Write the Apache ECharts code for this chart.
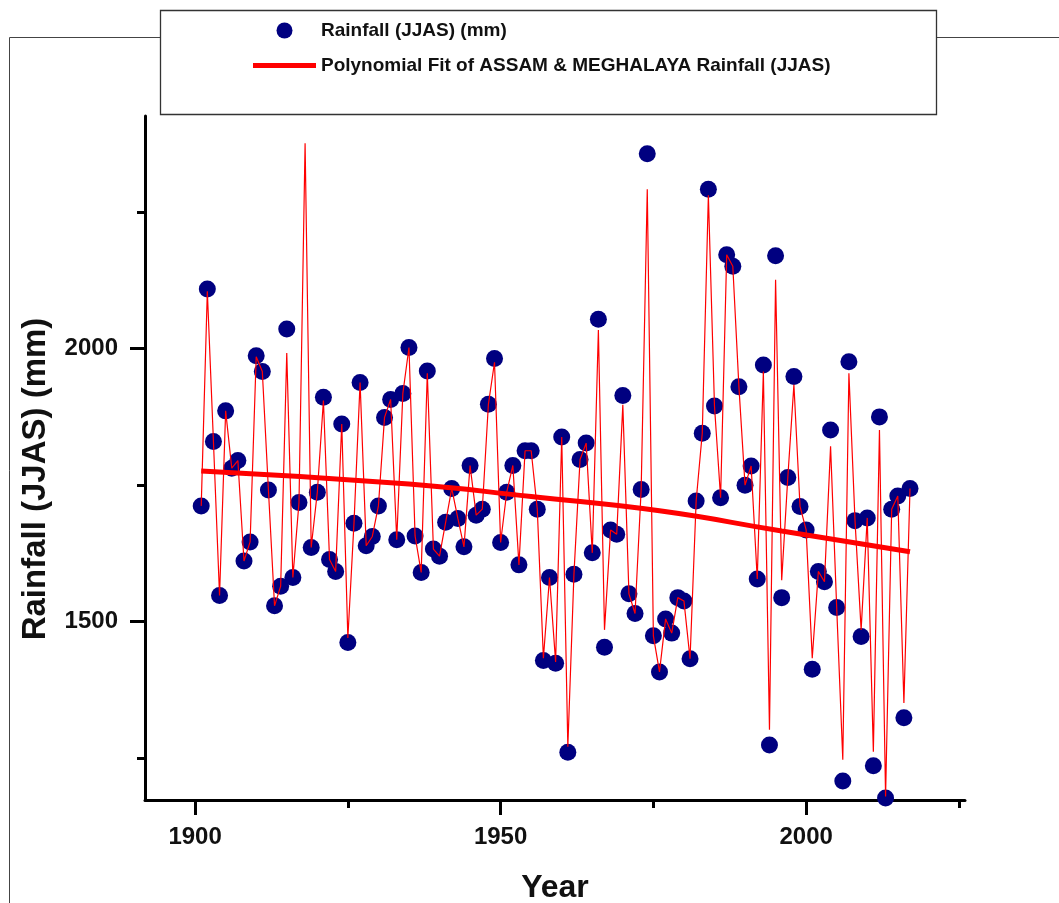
<!DOCTYPE html>
<html><head><meta charset="utf-8">
<script src="https://cdn.jsdelivr.net/npm/echarts@6/dist/echarts.min.js"></script>
<style>html,body{margin:0;padding:0;background:#fff}#chart{width:1059px;height:903px}</style>
</head><body><div id="chart"></div>
<script>
const firstYear = 1901;
// Rainfall (JJAS) dots, 1901-2017 (null = no dot drawn)
const rainfall = [
  1712, 2109, 1830, 1548, 1886, 1781, 1795, 1611, 1646, 1987,
  1958, 1741, 1529, 1565, 2036, 1581, 1718, null, 1636, 1737,
  1911, 1614, 1592, 1862, 1462, 1680, 1938, 1639, 1656, 1712,
  1874, 1907, 1650, 1918, 2002, 1657, 1590, 1959, 1633, 1620,
  1682, 1744, 1689, 1637, 1786, 1695, 1706, 1898, 1982, 1645,
  1737, 1786, 1604, 1813, 1813, 1706, 1429, 1581, 1424, 1838,
  1261, 1587, 1797, 1827, 1626, 2054, 1453, 1668, 1660, 1914,
  1551, 1515, 1742, 2357, 1474, 1408, 1505, 1479, 1544, 1538,
  1432, 1721, 1845, 2292, 1895, 1727, 2172, 2151, 1930, 1750,
  1785, 1578, 1970, 1274, 2170, 1544, 1764, 1949, 1711, 1668,
  1413, 1592, 1573, 1851, 1526, 1208, 1976, 1685, 1473, 1690,
  1236, 1875, 1177, 1706, 1730, 1324, 1744
];
// thin connecting line vertices, 1901-2017
const lineValues = [
  1712, 2105, 1830, 1548, 1886, 1781, 1795, 1611, 1646, 1985,
  1958, 1741, 1529, 1565, 1992, 1581, 1718, 2376, 1636, 1737,
  1905, 1614, 1592, 1862, 1470, 1680, 1938, 1639, 1656, 1712,
  1874, 1907, 1650, 1918, 2002, 1657, 1590, 1955, 1633, 1620,
  1682, 1744, 1689, 1637, 1786, 1695, 1706, 1898, 1975, 1645,
  1737, 1786, 1604, 1813, 1813, 1706, 1433, 1581, 1426, 1838,
  1271, 1587, 1797, 1827, 1626, 2034, 1485, 1668, 1660, 1897,
  1551, 1515, 1742, 2292, 1474, 1408, 1505, 1479, 1544, 1538,
  1432, 1721, 1845, 2281, 1895, 1727, 2172, 2151, 1930, 1750,
  1785, 1578, 1958, 1302, 2126, 1576, 1764, 1934, 1711, 1668,
  1433, 1592, 1573, 1821, 1526, 1247, 1955, 1685, 1485, 1690,
  1262, 1851, 1180, 1706, 1730, 1351, 1744
];
const fitYears = [1901, 1935, 1955, 1976, 1996, 2017];
const fitValues = [1776, 1752, 1729, 1703, 1666, 1628];
const xMajorTicks = [1900, 1950, 2000];
const xMinorTicks = [1925, 1975, 2025];
const yMajorTicks = [1500, 2000];
const yMinorTicks = [1250, 1750, 2250];

const FONT = 'Arial, "Liberation Sans", Helvetica, sans-serif';
const dotName = 'Rainfall (JJAS) (mm)';
const fitName = 'Polynomial Fit of ASSAM & MEGHALAYA Rainfall (JJAS)';

const dotData = [];
const lineData = [];
rainfall.forEach((v, i) => { if (v !== null) dotData.push([firstYear + i, v]); });
lineValues.forEach((v, i) => lineData.push([firstYear + i, v]));
const fitData = fitYears.map((y, i) => [y, fitValues[i]]);

const xMin = 1891.8, xMax = 2026, yMin = 1173.4, yMax = 2426;

const chart = echarts.init(document.getElementById('chart'), null, {renderer: 'canvas'});
chart.setOption({
  backgroundColor: '#fff',
  animation: false,
  graphic: [
    { type: 'polyline', silent: true, z: 0,
      shape: { points: [[1059, 37.5], [9.5, 37.5], [9.5, 903]] },
      style: { stroke: '#444', lineWidth: 1, fill: null } },
    { type: 'rect', silent: true, z: 1,
      shape: { x: 160.5, y: 10.5, width: 776, height: 104 },
      style: { stroke: '#333', lineWidth: 1.3, fill: '#fff' } }
  ],
  legend: {
    orient: 'vertical', left: 253, top: 21, padding: 0, itemGap: 16,
    itemWidth: 63, itemHeight: 16, itemTextGap: 5,
    data: [
      { name: dotName, icon: 'circle', itemStyle: { color: '#000080', opacity: 1 } },
      { name: fitName, icon: 'path://M0,0L63,0L63,5L0,5Z', itemStyle: { color: '#ff0000' } }
    ],
    textStyle: { fontFamily: FONT, fontSize: 19, fontWeight: 'bold', color: '#111' }
  },
  grid: { left: 145, right: 94, top: 116, bottom: 103, containLabel: false, outerBoundsMode: 'none' },
  xAxis: [
    { type: 'value', min: xMin, max: xMax, position: 'bottom',
      name: 'Year', nameLocation: 'middle', nameGap: 72,
      nameTextStyle: { fontFamily: FONT, fontSize: 32, fontWeight: 'bold', color: '#111' },
      axisLine: { show: true, lineStyle: { color: '#000', width: 3 } },
      axisTick: { show: true, customValues: xMajorTicks, length: 15, lineStyle: { color: '#000', width: 3 } },
      axisLabel: { show: true, customValues: xMajorTicks, margin: 25, formatter: v => String(v),
        fontFamily: FONT, fontSize: 24, fontWeight: 'bold', color: '#111' },
      splitLine: { show: false } },
    { type: 'value', min: xMin, max: xMax, position: 'bottom', gridIndex: 0,
      axisLine: { show: false },
      axisTick: { show: true, customValues: xMinorTicks, length: 8, lineStyle: { color: '#000', width: 3 } },
      axisLabel: { show: false }, splitLine: { show: false } }
  ],
  yAxis: [
    { type: 'value', min: yMin, max: yMax, position: 'left',
      name: 'Rainfall (JJAS) (mm)', nameLocation: 'middle', nameGap: 93, nameRotate: 90,
      nameTextStyle: { fontFamily: FONT, fontSize: 33, fontWeight: 'bold', color: '#111', padding: [0, 42, 0, 0] },
      axisLine: { show: true, lineStyle: { color: '#000', width: 3 } },
      axisTick: { show: true, customValues: yMajorTicks, length: 15, lineStyle: { color: '#000', width: 3 } },
      axisLabel: { show: true, customValues: yMajorTicks, margin: 27, formatter: v => String(v),
        fontFamily: FONT, fontSize: 24, fontWeight: 'bold', color: '#111' },
      splitLine: { show: false } },
    { type: 'value', min: yMin, max: yMax, position: 'left', gridIndex: 0,
      axisLine: { show: false },
      axisTick: { show: true, customValues: yMinorTicks, length: 8, lineStyle: { color: '#000', width: 3 } },
      axisLabel: { show: false }, splitLine: { show: false } }
  ],
  series: [
    { name: dotName, type: 'scatter', data: dotData, symbol: 'circle', symbolSize: 17,
      itemStyle: { color: '#000080', opacity: 1 }, z: 2 },
    { name: 'line', type: 'line', data: lineData, showSymbol: false, symbol: 'none',
      lineStyle: { color: '#ff0000', width: 1.2 }, itemStyle: { color: '#ff0000' }, z: 3 },
    { name: fitName, type: 'line', data: fitData, smooth: true, showSymbol: false, symbol: 'none',
      lineStyle: { color: '#ff0000', width: 5 }, itemStyle: { color: '#ff0000' }, z: 4 }
  ]
});
</script>
</body></html>
